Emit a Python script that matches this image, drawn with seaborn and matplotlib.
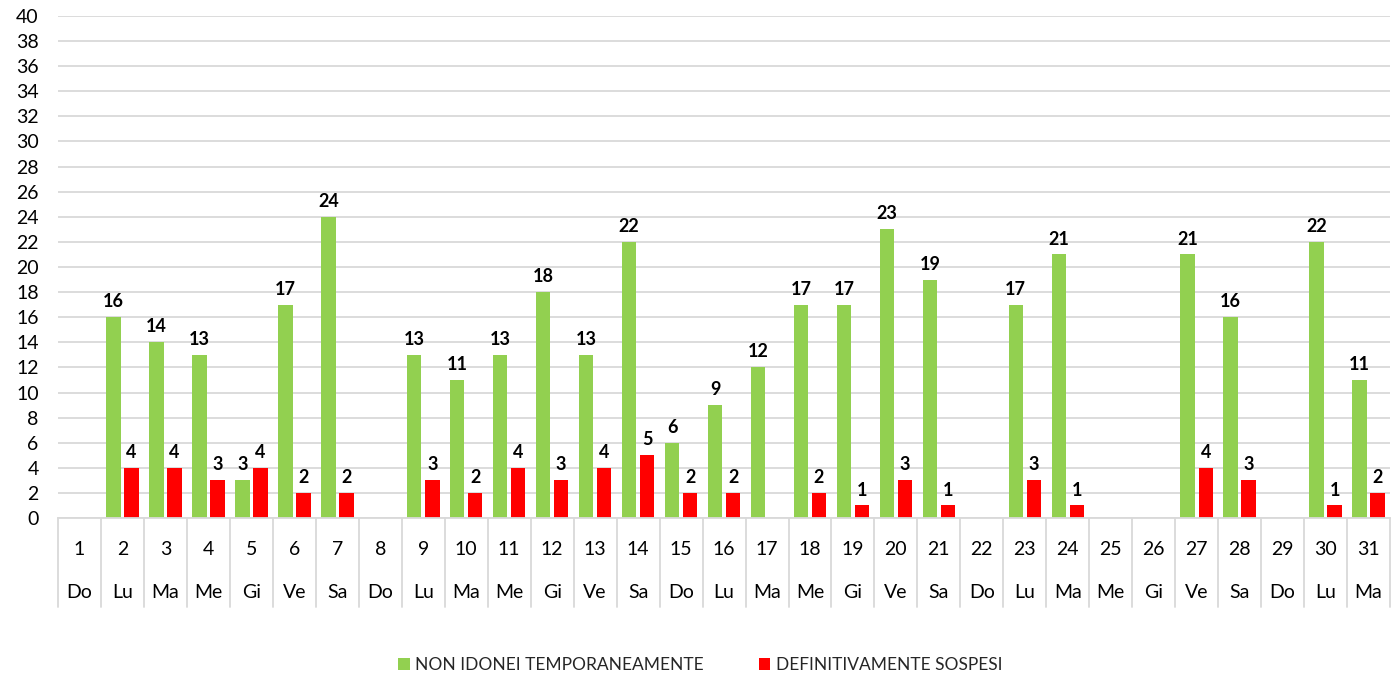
import numpy as np
import pandas as pd
import matplotlib
matplotlib.use("Agg")
import matplotlib.pyplot as plt
import matplotlib.transforms as mtransforms
from matplotlib.patches import Patch
import seaborn as sns

# dati
giorni = list(range(1, 32))
nomi_giorni = ["Do", "Lu", "Ma", "Me", "Gi", "Ve", "Sa",
               "Do", "Lu", "Ma", "Me", "Gi", "Ve", "Sa",
               "Do", "Lu", "Ma", "Me", "Gi", "Ve", "Sa",
               "Do", "Lu", "Ma", "Me", "Gi", "Ve", "Sa",
               "Do", "Lu", "Ma"]
non_idonei = [0, 16, 14, 13, 3, 17, 24, 0, 13, 11, 13, 18, 13, 22, 6, 9,
              12, 17, 17, 23, 19, 0, 17, 21, 0, 0, 21, 16, 0, 22, 11]
sospesi = [0, 4, 4, 3, 4, 2, 2, 0, 3, 2, 4, 3, 4, 5, 2, 2,
           0, 2, 1, 3, 1, 0, 3, 1, 0, 0, 4, 3, 0, 1, 2]

serie = ["NON IDONEI TEMPORANEAMENTE", "DEFINITIVAMENTE SOSPESI"]
colori = {serie[0]: "#92D050", serie[1]: "#FF0000"}

df = pd.DataFrame({
    "giorno": [str(g) for g in giorni] * 2,
    "valore": non_idonei + sospesi,
    "serie": [serie[0]] * len(giorni) + [serie[1]] * len(giorni),
})

sns.set_style("white")
plt.rcParams["font.family"] = ["Lato", "DejaVu Sans"]

fig = plt.figure(figsize=(13.92, 6.8), dpi=100)
ax = fig.add_axes([0.0417, 0.2382, 0.9569, 0.7383])

sns.barplot(data=df, x="giorno", y="valore", hue="serie", palette=colori,
            saturation=1, width=0.84, gap=0.2, linewidth=0, legend=False,
            ax=ax)

# etichette dati (niente etichetta per lo zero)
for cont in ax.containers:
    etichette = [f"{int(v)}" if v > 0 else "" for v in cont.datavalues]
    ax.bar_label(cont, labels=etichette, padding=5, fontsize=13,
                 fontweight="bold", color="black")

ax.set_ylim(0, 40)
ax.set_yticks(np.arange(0, 41, 2))
ax.set_xlim(-0.5, len(giorni) - 0.5)
ax.yaxis.grid(True, color="#d9d9d9", linewidth=1.3)
ax.set_axisbelow(True)
ax.tick_params(axis="y", length=0, pad=14, labelsize=14, labelcolor="black")
ax.tick_params(axis="x", length=0)
ax.set_xticklabels([])
ax.set_xlabel("")
ax.set_ylabel("")
for s in ["left", "right", "top"]:
    ax.spines[s].set_visible(False)
ax.spines["bottom"].set_color("#d9d9d9")
ax.spines["bottom"].set_linewidth(1.3)

# asse categorie a due livelli
trans = mtransforms.blended_transform_factory(ax.transData, ax.transAxes)
for i, (g, n) in enumerate(zip(giorni, nomi_giorni)):
    ax.text(i, -0.062, str(g), transform=trans, ha="center", va="center",
            fontsize=14, color="black")
    ax.text(i, -0.149, n, transform=trans, ha="center", va="center",
            fontsize=14, color="black")
for i in range(len(giorni) + 1):
    ax.plot([i - 0.5, i - 0.5], [0, -0.177], transform=trans, color="#d9d9d9",
            linewidth=1.3, clip_on=False)

handles = [Patch(facecolor=colori[s], edgecolor="none", label=s) for s in serie]
fig.legend(handles=handles, loc="center", bbox_to_anchor=(0.503, 0.022),
           ncol=2, frameon=False, fontsize=12.5, handlelength=0.65,
           handleheight=0.65, handletextpad=0.3, columnspacing=3.2)

fig.savefig("out.png", dpi=100)
